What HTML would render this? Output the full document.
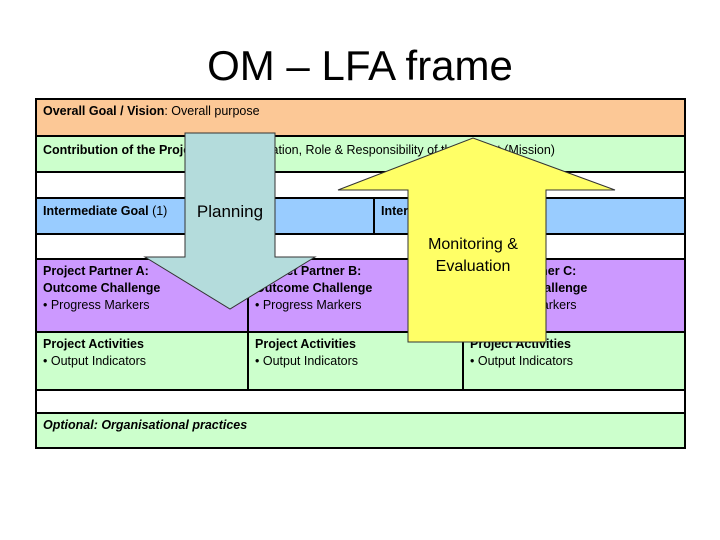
<!DOCTYPE html>
<html><head><style>
body{margin:0;width:720px;height:540px;background:#fff;position:relative;overflow:hidden;font-family:"Liberation Sans",sans-serif;}
.c{position:absolute;box-sizing:border-box;border:2px solid #000;font-size:12.5px;padding:3px 6px;line-height:17px;}
b{font-weight:bold}
</style></head><body>
<div style="position:absolute;left:0;width:720px;top:42px;text-align:center;font-size:42px;">OM – LFA frame</div>
<div class="c" style="left:35px;top:98px;width:651px;height:39px;background:#fcc896"><b>Overall Goal / Vision</b>: Overall purpose</div>
<div class="c" style="left:35px;top:135px;width:651px;height:38px;background:#ccffcc;padding-top:5px"><b>Contribution of the Project</b>: Goal, Motivation, Role &amp; Responsibility of the Project (Mission)</div>
<div class="c" style="left:35px;top:171px;width:651px;height:28px;background:#fff"></div>
<div class="c" style="left:35px;top:197px;width:340px;height:38px;background:#99ccff;padding-top:4px"><b>Intermediate Goal</b> (1)</div>
<div class="c" style="left:373px;top:197px;width:313px;height:38px;background:#99ccff;padding-top:4px"><b>Intermediate Goal</b> Indicator</div>
<div class="c" style="left:35px;top:233px;width:651px;height:27px;background:#fff"></div>
<div class="c" style="left:35px;top:258px;width:214px;height:75px;background:#cc99ff;padding-top:3px"><b>Project Partner A:<br>Outcome Challenge</b><br>• Progress Markers</div>
<div class="c" style="left:247px;top:258px;width:217px;height:75px;background:#cc99ff;padding-top:3px"><b>Project Partner B:<br>Outcome Challenge</b><br>• Progress Markers</div>
<div class="c" style="left:462px;top:258px;width:224px;height:75px;background:#cc99ff;padding-top:3px"><b>Project Partner C:<br>Outcome Challenge</b><br>• Progress Markers</div>
<div class="c" style="left:35px;top:331px;width:214px;height:60px;background:#ccffcc"><b>Project Activities</b><br>• Output Indicators</div>
<div class="c" style="left:247px;top:331px;width:217px;height:60px;background:#ccffcc"><b>Project Activities</b><br>• Output Indicators</div>
<div class="c" style="left:462px;top:331px;width:224px;height:60px;background:#ccffcc"><b>Project Activities</b><br>• Output Indicators</div>
<div class="c" style="left:35px;top:389px;width:651px;height:25px;background:#fff"></div>
<div class="c" style="left:35px;top:412px;width:651px;height:37px;background:#ccffcc;padding-top:3px"><b><i>Optional: Organisational practices</i></b></div>
<svg style="position:absolute;left:0;top:0" width="720" height="540">
<polygon points="185,133 275,133 275,257 315,257 230,309 145,257 185,257" fill="#b4dcdc" stroke="#333" stroke-width="1"/>
<text x="230" y="217" font-size="17" text-anchor="middle" font-family="Liberation Sans, sans-serif">Planning</text>
<polygon points="408,342 546,342 546,190 615,190 473,138 338,190 408,190" fill="#ffff66" stroke="#333" stroke-width="1"/>
<text x="473" y="249" font-size="16" text-anchor="middle" font-family="Liberation Sans, sans-serif">Monitoring &amp;</text>
<text x="473" y="271" font-size="16" text-anchor="middle" font-family="Liberation Sans, sans-serif">Evaluation</text>
</svg>
</body></html>
